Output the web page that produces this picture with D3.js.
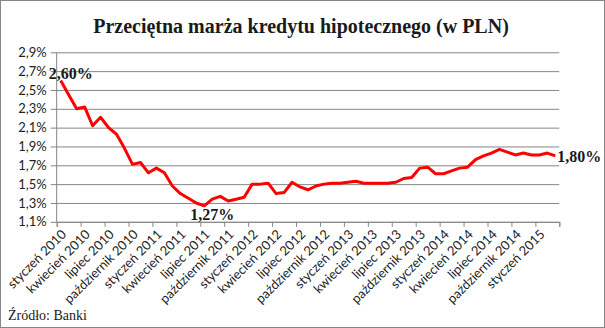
<!DOCTYPE html>
<html>
<head>
<meta charset="utf-8">
<script src="https://cdn.jsdelivr.net/npm/d3@7"></script>
<style>
  html, body { margin: 0; padding: 0; background: #fff; }
  svg { display: block; }
</style>
</head>
<body>
<svg id="chart" width="605" height="328"></svg>
<script>
// Average mortgage margin (PLN loans), monthly, Jan 2010 – Mar 2015
const monthNames = ["styczeń", "luty", "marzec", "kwiecień", "maj", "czerwiec",
  "lipiec", "sierpień", "wrzesień", "październik", "listopad", "grudzień"];
const years = [2010, 2011, 2012, 2013, 2014, 2015];

const margin = [2.60, 2.45, 2.30, 2.32, 2.12, 2.21, 2.10, 2.03, 1.88, 1.71, 1.73, 1.62,
  1.67, 1.62, 1.48, 1.40, 1.35, 1.30, 1.27, 1.34, 1.37, 1.32, 1.34, 1.36,
  1.50, 1.50, 1.51, 1.40, 1.41, 1.52, 1.47, 1.44, 1.48, 1.50, 1.51, 1.51,
  1.52, 1.53, 1.51, 1.51, 1.51, 1.51, 1.52, 1.56, 1.57, 1.67, 1.68, 1.61,
  1.61, 1.64, 1.67, 1.68, 1.76, 1.80, 1.83, 1.87, 1.84, 1.81, 1.83, 1.81,
  1.81, 1.83, 1.80];

const yTicks = [1.1, 1.3, 1.5, 1.7, 1.9, 2.1, 2.3, 2.5, 2.7, 2.9];
// points that carry a value label: [index, placement]
const labelled = [[0, "above"], [18, "below"], [62, "right"]];

// monthly category names, e.g. "styczeń 2010"
const categories = [];
years.forEach(y => monthNames.forEach(m => categories.push(m + " " + y)));
categories.length = margin.length;

const fmtPct = (v, d) => v.toFixed(d).replace(".", ",") + "%";

const svg = d3.select("#chart");
const plot = { left: 56.7, right: 559.3, top: 52.3, bottom: 221.8 };

// outer frame
svg.append("rect")
  .attr("x", 0.5).attr("y", 0.5).attr("width", 604).attr("height", 327)
  .attr("fill", "#fff").attr("stroke", "#868686").attr("stroke-width", 1);

// title
svg.append("text")
  .attr("x", 301).attr("y", 33)
  .attr("text-anchor", "middle")
  .attr("font-family", "'Liberation Serif', serif")
  .attr("font-weight", "bold")
  .attr("font-size", 20)
  .attr("fill", "#1a1a1a")
  .text("Przeciętna marża kredytu hipotecznego (w PLN)");

const x = d3.scaleBand().domain(categories).range([plot.left, plot.right]).padding(0);
const xEdge = d3.scaleLinear().domain([0, categories.length]).range([plot.left, plot.right]);
const y = d3.scaleLinear().domain([1.1, 2.9]).range([plot.bottom, plot.top]);
const cx = c => x(c) + x.bandwidth() / 2;

// horizontal gridlines with small left ticks and the value axis labels
const yAxis = d3.axisLeft(y)
  .tickValues(yTicks)
  .tickSize(-(plot.right - plot.left))
  .tickPadding(10)
  .tickFormat(d => fmtPct(d, 1));
const gy = svg.append("g")
  .attr("transform", `translate(${plot.left},0)`)
  .call(yAxis);
gy.select(".domain").remove();
gy.selectAll(".tick line")
  .attr("x1", -6)
  .attr("stroke", "#868686");
gy.selectAll(".tick text")
  .attr("font-family", "Lato, sans-serif")
  .attr("font-size", 13)
  .attr("fill", "#222");

// vertical value axis line
svg.append("line")
  .attr("x1", plot.left).attr("x2", plot.left)
  .attr("y1", plot.top).attr("y2", plot.bottom)
  .attr("stroke", "#868686");

// category axis: tick marks between every third month
const gx = svg.append("g")
  .attr("transform", `translate(0,${plot.bottom})`)
  .call(d3.axisBottom(xEdge)
    .tickValues(d3.range(0, categories.length + 1, 3))
    .tickSize(5)
    .tickFormat(""));
gx.selectAll("path, line").attr("stroke", "#868686");

// rotated category labels
const shown = categories.filter((c, i) => i % 3 === 0);
svg.append("g").selectAll("text")
  .data(shown)
  .join("text")
  .attr("transform", d => `translate(${cx(d) + 4},${plot.bottom + 11}) rotate(-45)`)
  .attr("text-anchor", "end")
  .attr("dominant-baseline", "middle")
  .attr("font-family", "Lato, sans-serif")
  .attr("font-size", 13)
  .attr("fill", "#222")
  .text(d => d);

// series line
const line = d3.line()
  .x((d, i) => cx(categories[i]))
  .y(d => y(d));
svg.append("path")
  .datum(margin)
  .attr("d", line)
  .attr("fill", "none")
  .attr("stroke", "#ff0000")
  .attr("stroke-width", 3)
  .attr("stroke-linejoin", "round");

// value labels
const lab = svg.append("g")
  .attr("font-family", "'Liberation Serif', serif")
  .attr("font-weight", "bold")
  .attr("font-size", 16)
  .attr("fill", "#1a1a1a");
labelled.forEach(([i, pos]) => {
  const px = cx(categories[i]);
  const py = y(margin[i]);
  const t = lab.append("text").text(fmtPct(margin[i], 2));
  if (pos === "above") t.attr("x", px + 10).attr("y", py - 2).attr("text-anchor", "middle");
  if (pos === "below") t.attr("x", px + 8).attr("y", py + 14).attr("text-anchor", "middle");
  if (pos === "right") t.attr("x", px + 2).attr("y", py + 6).attr("text-anchor", "start");
});

// source note
svg.append("text")
  .attr("x", 8).attr("y", 320)
  .attr("font-family", "'Liberation Serif', serif")
  .attr("font-size", 14)
  .attr("fill", "#1a1a1a")
  .text("Źródło: Banki");
</script>
</body>
</html>
